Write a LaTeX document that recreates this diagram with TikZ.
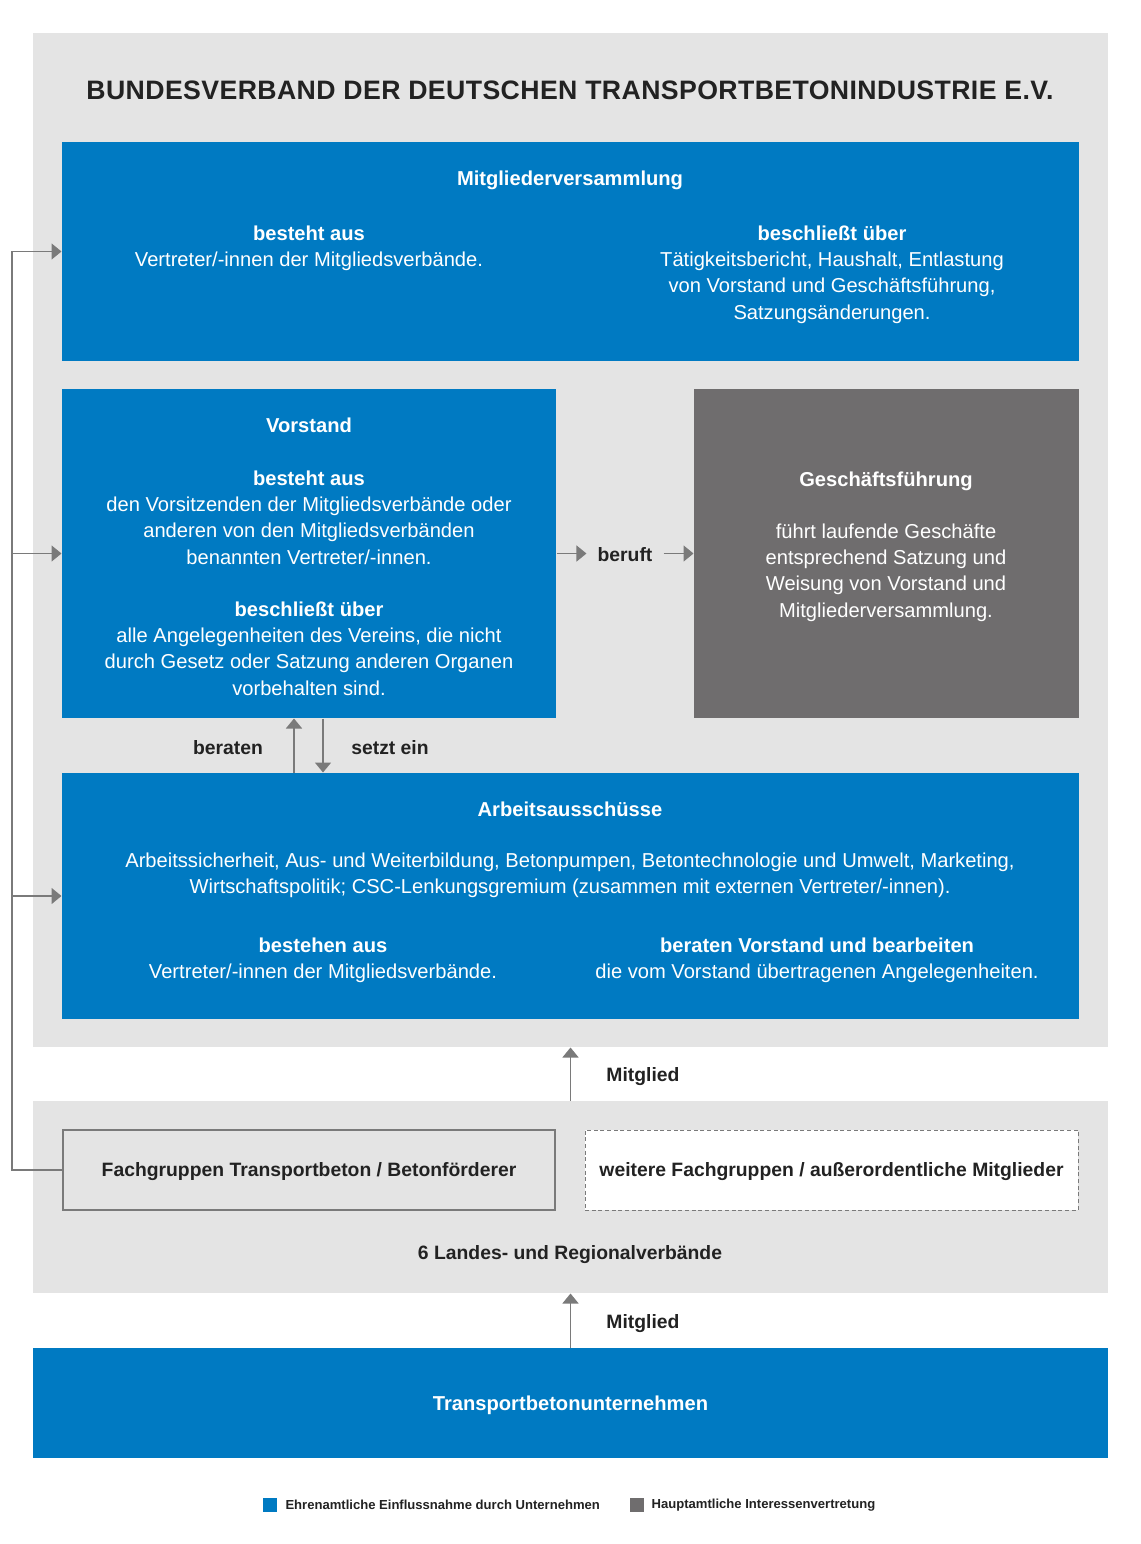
\documentclass[tikz,border=0pt]{standalone}
\usepackage{fontspec}
\setmainfont{Liberation Sans}
\newfontfamily\titlefont[LetterSpace=1.5]{Liberation Sans}
\usetikzlibrary{fit,positioning,arrows.meta}
\definecolor{vbblue}{RGB}{0,122,194}
\definecolor{vbgrey}{RGB}{111,109,110}
\definecolor{vbback}{RGB}{228,228,228}
\definecolor{vbline}{RGB}{122,122,122}
\definecolor{vbtext}{RGB}{34,34,34}
\tikzset{every picture/.style={line width=0.75pt},
  panel/.style={fill=vbback, draw=none, inner sep=0pt},
  bluebox/.style={fill=vbblue, draw=none, inner sep=0pt},
  greybox/.style={fill=vbgrey, draw=none, inner sep=0pt},
  body/.style={font=\fontsize{15.1}{19.7}\selectfont, text=white, align=center, yshift=-1.5pt},
  tag/.style={font=\fontsize{14.5}{19.7}\selectfont\bfseries, text=vbtext, align=center, yshift=-1.5pt},
  keytext/.style={font=\fontsize{9.8}{11}\selectfont\bfseries, text=vbtext, inner sep=0pt},
  connector/.style={draw=vbline, line width=1.1pt, -{Triangle[width=12pt,length=7.5pt]}},
}

\begin{document}
\begin{tikzpicture}[x=0.75pt,y=0.75pt,yscale=-1,xscale=1]
\path[use as bounding box, fill=white] (0,0) rectangle (1140,1544);

%Panels
\node [panel, fit={(33,33) (1108,1047)}] (bdv) {};
\node [panel, fit={(33,1101) (1108,1293)}] (land) {};
%Boxes
\node [bluebox, fit={(62,142) (1079,361)}] (mv) {};
\node [bluebox, fit={(62,389) (556,718)}] (vor) {};
\node [greybox, fit={(694,389) (1079,718)}] (gf) {};
\node [bluebox, fit={(62,773) (1079,1019)}] (arb) {};
\node [fit={(63,1130) (555,1210)}, draw=vbline, line width=1.5pt, fill=vbback, inner sep=0pt] (fach) {};
\node [fit={(585,1130) (1078,1210)}, draw=vbline, line width=0.75pt, dash pattern=on 3pt off 2pt, fill=white, inner sep=0pt] (weitere) {};
\node [bluebox, fit={(33,1348) (1108,1458)}] (tbu) {};

% Text Node
\draw (570,90) node [text=vbtext, font=\titlefont\fontsize{20}{24}\selectfont\bfseries] (title) {BUNDESVERBAND DER DEUTSCHEN TRANSPORTBETONINDUSTRIE E.V.};
% Text Node
\draw (570,178) node [body] (mvtitle) {\bfseries Mitgliederversammlung};
\draw (309,246) node [body] (mvleft) {\textbf{besteht aus}\\Vertreter/-innen der Mitgliedsverbände.};
\draw (832,272.5) node [body] (mvright) {\textbf{beschließt über}\\Tätigkeitsbericht, Haushalt, Entlastung\\von Vorstand und Geschäftsführung,\\Satzungsänderungen.};
% Text Node
\draw (309,423) node [body] (vortitle) {\bfseries Vorstand};
\draw (309,515.5) node [body] (vorone) {\textbf{besteht aus}\\den Vorsitzenden der Mitgliedsverbände oder\\anderen von den Mitgliedsverbänden\\benannten Vertreter/-innen.};
\draw (309,646.5) node [body] (vortwo) {\textbf{beschließt über}\\alle Angelegenheiten des Vereins, die nicht\\durch Gesetz oder Satzung anderen Organen\\vorbehalten sind.};
% Text Node
\draw (886,479) node [body] (gftitle) {\bfseries Geschäftsführung};
\draw (886,570.5) node [body] (gftext) {führt laufende Geschäfte\\entsprechend Satzung und\\Weisung von Vorstand und\\Mitgliederversammlung.};
% Text Node
\draw (570,807) node [body] (arbtitle) {\bfseries Arbeitsausschüsse};
\draw (570,873) node [body] (arbtext) {Arbeitssicherheit, Aus- und Weiterbildung, Betonpumpen, Betontechnologie und Umwelt, Marketing,\\Wirtschaftspolitik; CSC-Lenkungsgremium (zusammen mit externen Vertreter/-innen).};
\draw (323,958) node [body] (arbleft) {\textbf{bestehen aus}\\Vertreter/-innen der Mitgliedsverbände.};
\draw (817,958) node [body] (arbright) {\textbf{beraten Vorstand und bearbeiten}\\die vom Vorstand übertragenen Angelegenheiten.};
% Text Node
\draw (fach.center) node [tag] (fachtext) {Fachgruppen Transportbeton / Betonförderer};
\draw (weitere.center) node [tag] (weiteretext) {weitere Fachgruppen / außerordentliche Mitglieder};
\draw (570,1253) node [tag] (landtext) {6 Landes- und Regionalverbände};
\draw (tbu.center) node [body] (tbutext) {\bfseries Transportbetonunternehmen};

%Connectors
\draw (625,553) node [tag, inner sep=8pt] (beruft) {beruft};
\draw [connector] (vor.east) -- (vor.east -| beruft.west);
\draw [connector] (gf.west -| beruft.east) -- (gf.west);
\coordinate (up) at (294,745);
\coordinate (down) at (323,745);
\draw (228,746) node [tag] (beraten) {beraten};
\draw (390,746) node [tag] (setzt) {setzt ein};
\draw [connector] (up |- arb.north) -- (up |- vor.south);
\draw [connector] (down |- vor.south) -- (down |- arb.north);
\draw [connector] (land.north) -- (bdv.south);
\draw (643,1075) node [tag] (mitgliedone) {Mitglied};
\draw [connector] (tbu.north) -- (land.south);
\draw (643,1322) node [tag] (mitgliedtwo) {Mitglied};
\coordinate (trunk) at (12,1170);
\draw [connector] (fach.west) -- (trunk) |- (mv.west);
\draw [connector] (trunk) |- (vor.west);
\draw [connector] (trunk) |- (arb.west);

%Legend
\node [fill=vbblue, minimum size=10.5pt, inner sep=0pt] (keyblue) at (269.5,1505) {};
\node [keytext, right=6pt of keyblue] (keybluetext) {Ehrenamtliche Einflussnahme durch Unternehmen};
\node [fill=vbgrey, minimum size=10.5pt, inner sep=0pt] (keygrey) at (637,1505) {};
\node [keytext, right=5pt of keygrey] (keygreytext) {Hauptamtliche Interessenvertretung};

\end{tikzpicture}
\end{document}
